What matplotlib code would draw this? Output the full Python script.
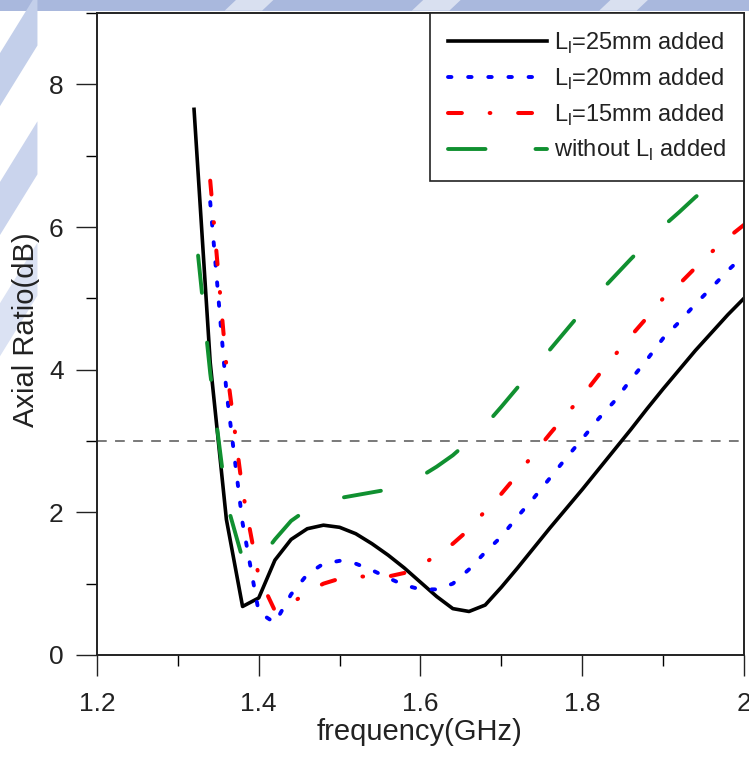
import matplotlib
matplotlib.use('Agg')
import matplotlib.pyplot as plt
import matplotlib.patches as mpatches
from matplotlib.ticker import MultipleLocator

plt.rcParams.update({
    'font.family': ['Liberation Sans', 'DejaVu Sans'],
    'mathtext.fontset': 'custom',
    'mathtext.rm': 'Liberation Sans',
    'lines.scale_dashes': False,
})

# ---- data ----
f_25 = [1.32, 1.34, 1.36, 1.38, 1.40, 1.42, 1.44, 1.46, 1.48, 1.50, 1.52, 1.54, 1.56, 1.58,
        1.60, 1.62, 1.64, 1.66, 1.68, 1.70, 1.72, 1.74, 1.76, 1.78, 1.80, 1.82, 1.84, 1.86,
        1.88, 1.90, 1.92, 1.94, 1.96, 1.98, 2.00]
ar_25 = [7.65, 4.10, 1.90, 0.68, 0.80, 1.33, 1.62, 1.77, 1.82, 1.79, 1.70, 1.56, 1.40, 1.22,
         1.02, 0.82, 0.65, 0.61, 0.70, 0.95, 1.22, 1.50, 1.78, 2.05, 2.32, 2.60, 2.88, 3.16,
         3.45, 3.73, 4.00, 4.27, 4.52, 4.77, 5.00]

f_20 = [1.34, 1.36, 1.38, 1.40, 1.42, 1.44, 1.46, 1.48, 1.50, 1.52, 1.54, 1.56, 1.58, 1.60,
        1.62, 1.64, 1.66, 1.68, 1.70, 1.72, 1.74, 1.76, 1.78, 1.80, 1.82, 1.84, 1.86, 1.88,
        1.90, 1.92, 1.94, 1.96, 1.98, 2.00]
ar_20 = [6.35, 3.70, 1.85, 0.60, 0.45, 0.85, 1.13, 1.28, 1.32, 1.28, 1.19, 1.08, 0.98, 0.92,
         0.92, 1.00, 1.20, 1.44, 1.66, 1.94, 2.20, 2.48, 2.76, 3.03, 3.31, 3.56, 3.86, 4.14,
         4.44, 4.67, 4.92, 5.15, 5.39, 5.60]

f_15 = [1.34, 1.36, 1.38, 1.40, 1.42, 1.44, 1.46, 1.48, 1.50, 1.52, 1.54, 1.56, 1.58, 1.60,
        1.62, 1.64, 1.66, 1.68, 1.70, 1.72, 1.74, 1.76, 1.78, 1.80, 1.82, 1.84, 1.86, 1.88,
        1.90, 1.92, 1.94, 1.96, 1.98, 2.00]
ar_15 = [6.65, 4.05, 2.30, 1.10, 0.62, 0.72, 0.88, 1.00, 1.07, 1.10, 1.10, 1.10, 1.15, 1.25,
         1.40, 1.56, 1.76, 2.02, 2.26, 2.53, 2.82, 3.10, 3.37, 3.63, 3.92, 4.20, 4.47, 4.73,
         5.00, 5.20, 5.43, 5.65, 5.85, 6.03]

f_0 = [1.325, 1.34, 1.36, 1.38, 1.39, 1.40, 1.42, 1.44, 1.46, 1.48, 1.50, 1.52, 1.54, 1.56,
       1.58, 1.60, 1.62, 1.64, 1.66, 1.68, 1.70, 1.72, 1.74, 1.76, 1.78, 1.80, 1.82, 1.84,
       1.86, 1.88, 1.90, 1.92, 1.94, 1.96, 1.98, 2.00]
ar_0 = [5.60, 3.95, 2.15, 1.35, 1.25, 1.32, 1.62, 1.88, 2.04, 2.15, 2.20, 2.24, 2.28, 2.32,
        2.38, 2.50, 2.64, 2.80, 3.00, 3.22, 3.48, 3.75, 4.02, 4.28, 4.55, 4.82, 5.07, 5.31,
        5.55, 5.78, 6.01, 6.21, 6.42, 6.60, 6.79, 6.96]

labels = [r'L$_\mathregular{l}$=25mm added', r'L$_\mathregular{l}$=20mm added',
          r'L$_\mathregular{l}$=15mm added', r'without L$_\mathregular{l}$ added']
ar_limit = 3

# ---- figure ----
fig = plt.figure(figsize=(7.49, 7.58), dpi=100)

# faint slide background (blue diagonal stripes at top and left), kept behind everything
bg_kw = dict(transform=fig.transFigure, edgecolor='none', zorder=-5)
fig.patches.append(mpatches.Rectangle((0, 0.986), 1, 0.014, facecolor='#a9b8dd', **bg_kw))
for x0 in [0.30, 0.55, 0.80]:
    fig.patches.append(mpatches.Polygon([(x0, 0.986), (x0 + 0.05, 0.986), (x0 + 0.065, 1.0), (x0 + 0.015, 1.0)],
                                        closed=True, facecolor='#d9e0f0', **bg_kw))
for y0, c in [(0.93, '#c3cfea'), (0.76, '#cad4ed'), (0.60, '#dbe2f3')]:
    fig.patches.append(mpatches.Polygon([(0, y0), (0.05, y0 + 0.08), (0.05, y0 + 0.01), (0, y0 - 0.07)],
                                        closed=True, facecolor=c, **bg_kw))

ax = fig.add_axes([0.1295, 0.1359, 0.8638, 0.8469])
ax.patch.set_alpha(0)

l1, = ax.plot(f_25, ar_25, color='black', lw=2.6, solid_joinstyle='round')
l2, = ax.plot(f_20, ar_20, color='blue', lw=2.8, dash_capstyle='round')
l2.set_dashes((2.5, 12))
l3, = ax.plot(f_15, ar_15, color='red', lw=2.9, dash_capstyle='round')
l3.set_dashes((10, 20, 0.5, 20))
l4, = ax.plot(f_0, ar_0, color='#109030', lw=2.8, dash_capstyle='round')
l4.set_dashes((27, 36))

ax.axhline(ar_limit, color='#555555', lw=1.1, dashes=(7, 6), zorder=1)

ax.set_xlim(1.2, 2.0)
ax.set_ylim(0, 9)
ax.xaxis.set_major_locator(MultipleLocator(0.2))
ax.xaxis.set_minor_locator(MultipleLocator(0.1))
ax.yaxis.set_major_locator(MultipleLocator(2))
ax.yaxis.set_minor_locator(MultipleLocator(1))
ax.set_xticks([1.2, 1.4, 1.6, 1.8, 2.0], ['1.2', '1.4', '1.6', '1.8', '2'])
ax.tick_params(which='major', direction='out', length=15, width=1.0, labelsize=19,
               colors='#222222')
ax.tick_params(which='minor', direction='out', length=8, width=1.0)
ax.tick_params(axis='x', which='major', pad=12)
ax.tick_params(axis='y', which='major', pad=9)
ax.tick_params(axis='y', which='both', right=False)
ax.tick_params(axis='x', which='both', top=False)
for s in ax.spines.values():
    s.set_linewidth(1.4)
    s.set_color('#222222')

ax.set_xlabel('frequency(GHz)', fontsize=21, color='#222222')
ax.set_ylabel('Axial Ratio(dB)', fontsize=21, color='#222222')
ax.xaxis.set_label_coords(0.498, -0.098)
ax.yaxis.set_label_coords(-0.088, 0.506)

leg = ax.legend([l1, l2, l3, l4], labels, loc='upper right', bbox_to_anchor=(1.0, 1.0),
                borderaxespad=0, fancybox=False, framealpha=1, edgecolor='#222222',
                fontsize=17, handlelength=4.2, handletextpad=0.3, labelspacing=0.45,
                borderpad=0.75)
leg.get_frame().set_linewidth(1.2)
for t in leg.get_texts():
    t.set_color('#222222')

fig.savefig('out.png', dpi=100)
